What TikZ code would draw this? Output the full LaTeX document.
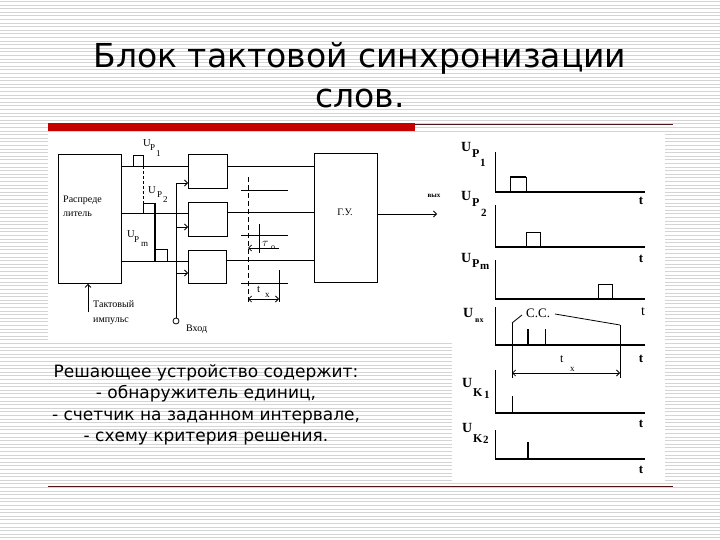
\documentclass[tikz,border=0pt]{standalone}
\usepackage{fontspec}
\setmainfont{Liberation Serif}
\newfontfamily\slidefont{DejaVu Sans}
\usetikzlibrary{arrows.meta}
\definecolor{stripe}{RGB}{212,212,212}
\definecolor{barred}{RGB}{196,0,0}
\definecolor{darkline}{RGB}{80,20,20}
\begin{document}
\begin{tikzpicture}[x=1pt,y=-1pt,
  ln/.style={line width=0.8pt},
  thk/.style={line width=1.8pt},
  blk/.style={draw,line width=0.9pt,inner sep=0pt,anchor=north west},
  tip/.style={-{Straight Barb[length=3pt,width=6pt]}},
  dtip/.style={{Straight Barb[length=3pt,width=6pt]}-{Straight Barb[length=3pt,width=6pt]}},
  lab/.style={inner sep=0pt,anchor=base west,font=\fontsize{10}{10}\selectfont},
  sm/.style={inner sep=0pt,anchor=base west,font=\fontsize{9}{9}\selectfont},
  ul/.style={inner sep=0pt,anchor=base west,font=\fontsize{10.5}{11}\selectfont},
  bu/.style={inner sep=0pt,anchor=base west,font=\fontsize{14}{14}\selectfont\bfseries},
  bp/.style={inner sep=0pt,anchor=base west,font=\fontsize{12}{12}\selectfont\bfseries},
  bs/.style={inner sep=0pt,anchor=base west,font=\fontsize{11}{11}\selectfont\bfseries},
  tl/.style={inner sep=0pt,anchor=base,font=\fontsize{13}{13}\selectfont\bfseries},
  ttl/.style={inner sep=0pt,anchor=base,font=\slidefont\fontsize{33}{40}\selectfont},
  body/.style={inner sep=0pt,anchor=base,font=\slidefont\fontsize{17}{22}\selectfont}
]
\useasboundingbox (0,0) rectangle (720,540);
\fill[white] (0,0) rectangle (720,540);
\foreach \i in {0,...,150} \draw[stripe,line width=0.9pt] (0,{1.5+\i*3.6}) -- (720,{1.5+\i*3.6});
\fill[white] (48,133) rectangle (452,343);
\fill[white] (452,133) rectangle (665,483);

% title and rules
\node[ttl] (title1) at (360,68) {Блок тактовой синхронизации};
\node[ttl] (title2) at (360,108) {слов.};
\fill[barred] (48,123) rectangle (415,131);
\draw[darkline,line width=0.8pt] (415,124) -- (673,124);
\draw[darkline,line width=0.8pt] (48,486) -- (673,486);

% body text
\node[body] (t1) at (206,377) {Решающее устройство содержит:};
\node[body] (t2) at (206,398) {- обнаружитель единиц,};
\node[body] (t3) at (206,420) {- счетчик на заданном интервале,};
\node[body] (t4) at (206,441) {- схему критерия решения.};

% ---------- left block diagram ----------
\node[blk,minimum width=63pt,minimum height=129pt] (dist) at (58,154) {};
\node[lab] (distA) at (63,203) {Распреде};
\node[lab] (distB) at (63,216) {литель};
\coordinate (clk) at (88,312);
\draw[ln,tip] (clk) -- (clk |- dist.south);
\node[lab] (clkA) at (93,307) {Тактовый};
\node[lab] (clkB) at (93,322) {импульс};

\node[blk,minimum width=39pt,minimum height=34pt] (b1) at (188,154) {};
\node[blk,minimum width=39pt,minimum height=34pt] (b2) at (188,202) {};
\node[blk,minimum width=38pt,minimum height=33pt] (b3) at (188,250) {};
\node[blk,minimum width=63pt,minimum height=129pt] (gu) at (314,153) {};
\node[lab,anchor=center] (gut) at (345,212) {Г.У.};

% distributor outputs
\coordinate (d1) at (121,166); \coordinate (d2) at (121,213); \coordinate (d3) at (121,261);
\draw[ln] (d1) -- (b1.west |- d1);
\draw[ln] (d2) -- (b2.west |- d2);
\draw[ln] (d3) -- (b3.west |- d3);
% pulses on the outputs
\draw[ln] (133,166) -- (133,155) -- (143,155) -- (143,166);
\draw[ln,dashed,dash pattern=on 3pt off 2pt] (143,166) -- (143,203);
\draw[ln] (143,213) -- (143,203) -- (155,203);
\draw[line width=1.6pt] (155,203) -- (155,261);
\draw[ln] (155,249) -- (167,249) -- (167,261);
\node[ul] (u1) at (143,147) {U}; \node[sm] (p1) at (150,151) {P}; \node[sm] (n1) at (156,157) {1};
\node[ul] (u2) at (148,194) {U}; \node[sm] (p2) at (157,197) {P}; \node[sm] (n2) at (163,203) {2};
\node[ul] (um) at (127,237) {U}; \node[sm] (pm) at (134,242) {P}; \node[sm] (nm) at (141,246) {m};

% input bus
\coordinate (bt) at (176,183);
\node[circle,draw,ln,minimum size=6pt,inner sep=0pt] (inp) at (176,321) {};
\node[lab] (inpl) at (186,331) {Вход};
\draw[ln] (bt) -- (inp.north);
\coordinate (a2) at (176,227); \coordinate (a3) at (176,273);
\draw[ln,tip] (bt) -- (b1.west |- bt);
\draw[ln,tip] (a2) -- (b2.west |- a2);
\draw[ln,tip] (a3) -- (b3.west |- a3);

% block outputs to decision device
\coordinate (o1) at (227,166); \coordinate (o2) at (227,212); \coordinate (o3) at (226,260);
\draw[ln] (o1) -- (gu.west |- o1);
\draw[ln] (o2) -- (gu.west |- o2);
\draw[ln] (o3) -- (gu.west |- o3);
\coordinate (out) at (437,214);
\draw[ln,tip] (gu.east |- out) -- (out);
\node[inner sep=0pt,font=\fontsize{7}{7}\selectfont\bfseries] (outl) at (434,196) {вых};

% timing marks
\draw[ln,dashed,dash pattern=on 5pt off 3pt] (248,177) -- (248,302);
\draw[ln] (241,190) -- (288,190);
\draw[ln] (241,235) -- (288,235);
\draw[ln] (259,224) -- (259,253);
\coordinate (tau) at (248,248);
\draw[ln,tip] (279,248) -- (tau);
\node[inner sep=0pt,anchor=base west,font=\fontsize{13}{13}\selectfont] (taul) at (262,246) {$\tau$}; \node[inner sep=0pt,anchor=base west,font=\fontsize{8}{8}\selectfont] (taus) at (271,249) {o};
\draw[ln] (241,283) -- (288,283);
\draw[ln] (279,270) -- (279,302);
\coordinate (tx1) at (248,299); \coordinate (tx2) at (279,299);
\draw[ln,dtip] (tx1) -- (tx2);
\node[lab,font=\fontsize{11}{11}\selectfont] (txl) at (257,292) {t}; \node[sm] (txs) at (265,297) {x};

% ---------- timing diagrams ----------
% axis 1
\draw[ln] (495,152) -- (495,192);
\draw[line width=2pt] (495,192) -- (645,192);
\draw[ln] (510,192) -- (510,177); \draw[line width=1.8pt] (510,177) -- (526,177); \draw[ln] (526,177) -- (526,192);
\node[bu] (U1) at (461,152) {U}; \node[bp] (P1) at (472,158) {P}; \node[bs] (N1) at (480,167) {1};
\node[tl] (T1) at (641,205) {t};
% axis 2
\draw[ln] (495,205) -- (495,247);
\draw[line width=1.2pt] (495,247) -- (645,247);
\draw[ln] (526,247) -- (526,232) -- (540,232) -- (540,247);
\node[bu] (U2) at (461,201) {U}; \node[bp] (P2) at (472,207) {P}; \node[bs] (N2) at (481,217) {2};
\node[tl] (T2) at (641,262) {t};
% axis 3
\draw[ln] (495,260) -- (495,299);
\draw[line width=1.2pt] (495,299) -- (645,299);
\draw[ln] (598,299) -- (598,284) -- (612,284) -- (612,299);
\node[bu] (U3) at (461,262) {U}; \node[bp] (P3) at (472,267) {P}; \node[bs] (N3) at (480,269) {m};
\node[inner sep=0pt,anchor=base,font=\fontsize{14}{14}\selectfont] (T3) at (643,315) {t};
% U in
\draw[ln] (495,307) -- (495,345);
\draw[line width=2pt] (495,345) -- (645,345);
\draw[line width=1.6pt] (528,329) -- (528,345);
\draw[ln] (545,329) -- (545,345);
\node[bu] (U4) at (463,317) {U}; \node[inner sep=0pt,anchor=base west,font=\fontsize{8}{8}\selectfont\bfseries] (P4) at (475,322) {вх};
\node[inner sep=0pt,anchor=base west,font=\fontsize{13}{13}\selectfont] (cc) at (526,317) {С.С.};
\coordinate (cl) at (512,323); \coordinate (cr) at (620,325);
\draw[ln] (cl) -- (522,315);
\draw[ln] (555,314) -- (cr);
\coordinate (cl2) at (512,378); \coordinate (cr2) at (620,378);
\draw[ln] (cl) -- (cl2);
\draw[ln] (cr) -- (cr2);
\draw[ln,dtip] (512,373) -- (620,373);
\node[lab,font=\fontsize{12}{12}\selectfont] (TX) at (560,362) {t}; \node[sm] (TXs) at (570,371) {x};
\node[tl] (T4) at (641,362) {t};
% U K1
\draw[ln] (495,370) -- (495,413);
\draw[line width=1.2pt] (495,413) -- (645,413);
\draw[ln] (512,396) -- (512,413);
\node[bu] (U5) at (462,387) {U}; \node[bp] (P5) at (473,396) {K}; \node[bs] (N5) at (484,398) {1};
\node[tl] (T5) at (641,427) {t};
% U K2
\draw[ln] (495,430) -- (495,459);
\draw[line width=2pt] (495,459) -- (645,459);
\draw[line width=1.6pt] (528,442) -- (528,459);
\node[bu] (U6) at (462,432) {U}; \node[bp] (P6) at (473,442) {K}; \node[bs] (N6) at (483,443) {2};
\node[tl] (T6) at (641,473) {t};
\end{tikzpicture}
\end{document}
